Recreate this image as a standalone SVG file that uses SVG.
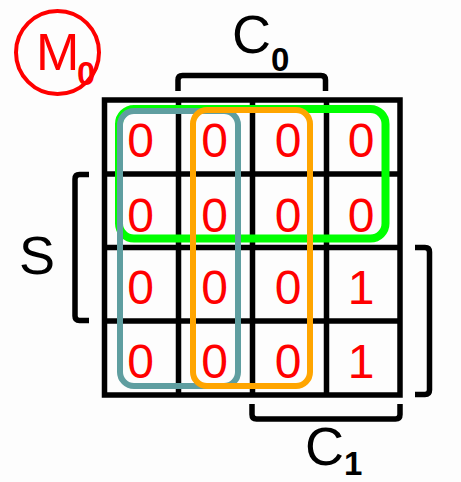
<svg xmlns="http://www.w3.org/2000/svg" width="461" height="482" viewBox="0 0 461 482">
<style>
.grid{fill:none;stroke:#000;stroke-width:5.5}
.br{fill:none;stroke:#000;stroke-width:5.5;stroke-linejoin:round}
.lbl{font-family:"Liberation Sans",Arial,sans-serif;font-size:54px;fill:#000}
.sub{font-family:"Liberation Sans",Arial,sans-serif;font-size:33px;font-weight:bold}
.v{font-family:"Liberation Sans",Arial,sans-serif;font-size:48px;fill:#ff0000;text-anchor:middle}
.loop{fill:none}
</style>
<rect width="461" height="482" fill="#fdfdfd"/>
<g id="m0-label">
<circle cx="57.5" cy="52.5" r="41.5" fill="none" stroke="#ff0000" stroke-width="4"/>
<text x="36" y="70" class="lbl" style="fill:#ff0000;font-size:52px">M<tspan class="sub" x="77" y="85" style="fill:#ff0000">0</tspan></text>
</g>
<g id="grid">
<rect class="grid" x="104.5" y="100" width="295.5" height="295"/>
<line class="grid" x1="178.5" y1="100" x2="178.5" y2="395"/>
<line class="grid" x1="252.5" y1="100" x2="252.5" y2="395"/>
<line class="grid" x1="326.5" y1="100" x2="326.5" y2="395"/>
<line class="grid" x1="104.5" y1="174" x2="400" y2="174"/>
<line class="grid" x1="104.5" y1="247.5" x2="400" y2="247.5"/>
<line class="grid" x1="104.5" y1="321" x2="400" y2="321"/>
</g>
<g id="brackets">
<g id="c0-bracket">
<path class="br" d="M178,91 V80 Q178,75.5 182.5,75.5 H321 Q325.5,75.5 325.5,80 V91"/>
<text x="232" y="53" class="lbl">C<tspan class="sub" x="271" y="71">0</tspan></text>
</g>
<g id="s-bracket">
<path class="br" d="M89,174.5 H79.5 Q75,174.5 75,179 V316 Q75,320.5 79.5,320.5 H89"/>
<text x="37" y="274" class="lbl" text-anchor="middle">S</text>
</g>
<g id="c1-bracket">
<path class="br" d="M252,404 V414.5 Q252,419 256.5,419 H395.5 Q400,419 400,414.5 V404"/>
<text x="305" y="465" class="lbl">C<tspan class="sub" x="344" y="475">1</tspan></text>
</g>
<g id="right-bracket">
<path class="br" d="M415,247.5 H425 Q429.5,247.5 429.5,252 V390 Q429.5,394.5 425,394.5 H415"/>
</g>
</g>
<g id="loops">
<rect id="loop-green" class="loop" x="119" y="109" width="266.5" height="129.5" rx="15" stroke="#00ff00" stroke-width="8"/>
<rect id="loop-teal" class="loop" x="120" y="111" width="118" height="275" rx="14" stroke="#5f9ea0" stroke-width="6"/>
<rect id="loop-orange" class="loop" x="193" y="110" width="117" height="276" rx="14" stroke="#ffa500" stroke-width="6"/>
</g>
<g id="cells">
<text class="v" x="140.5" y="157">0</text>
<text class="v" x="214.5" y="157">0</text>
<text class="v" x="288" y="157">0</text>
<text class="v" x="361" y="157">0</text>
<text class="v" x="140.5" y="232">0</text>
<text class="v" x="214.5" y="232">0</text>
<text class="v" x="288" y="232">0</text>
<text class="v" x="361" y="232">0</text>
<text class="v" x="140.5" y="304">0</text>
<text class="v" x="214.5" y="304">0</text>
<text class="v" x="288" y="304">0</text>
<text class="v" x="361" y="304">1</text>
<text class="v" x="140.5" y="378">0</text>
<text class="v" x="214.5" y="378">0</text>
<text class="v" x="288" y="378">0</text>
<text class="v" x="361" y="378">1</text>
</g>
</svg>
